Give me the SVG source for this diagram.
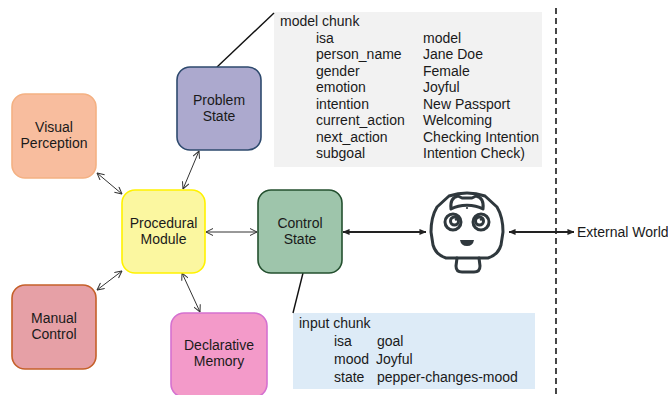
<svg xmlns="http://www.w3.org/2000/svg" width="668" height="395" viewBox="0 0 668 395">
  <style>
    text { font-family: "Liberation Sans", Arial, sans-serif; font-size: 14px; fill: #1a1a1a; }
    .lbl { text-anchor: middle; }
    .node rect { stroke-width: 1.6; }
    .thin { stroke: #333; stroke-width: 1; fill: none; marker-start: url(#open); marker-end: url(#open); }
    .thick { stroke: #222; stroke-width: 1.8; fill: none; marker-start: url(#solid); marker-end: url(#solid); }
    .lead { stroke: #111; stroke-width: 1.4; fill: none; }
    .robot { stroke: #2f383d; stroke-width: 3; fill: none; stroke-linejoin: round; stroke-linecap: round; }
  </style>
  <defs>
    <marker id="open" viewBox="0 0 8 8" refX="7.5" refY="4" markerWidth="8" markerHeight="8" markerUnits="userSpaceOnUse" orient="auto-start-reverse">
      <path d="M0.5,0.5 L7.5,4 L0.5,7.5" fill="none" stroke="#333" stroke-width="1"/>
    </marker>
    <marker id="solid" viewBox="0 0 8 8" refX="7.5" refY="4" markerWidth="7" markerHeight="7" markerUnits="userSpaceOnUse" orient="auto-start-reverse">
      <path d="M0,0.5 L8,4 L0,7.5 Z" fill="#222"/>
    </marker>
  </defs>

  <rect width="668" height="395" fill="#ffffff"/>

  <!-- boundary to the outside world -->
  <line x1="556" y1="8" x2="556" y2="395" stroke="#333" stroke-width="1.8" stroke-dasharray="6 4"/>

  <!-- chunk panels -->
  <g id="model-chunk">
    <rect x="274" y="12" width="268" height="155" fill="#f2f2f2"/>
    <text x="280" y="26">model chunk</text>
    <text x="316" y="42.5">isa</text><text x="423" y="42.5">model</text>
    <text x="316" y="59">person_name</text><text x="423" y="59">Jane Doe</text>
    <text x="316" y="75.5">gender</text><text x="423" y="75.5">Female</text>
    <text x="316" y="92">emotion</text><text x="423" y="92">Joyful</text>
    <text x="316" y="108.5">intention</text><text x="423" y="108.5">New Passport</text>
    <text x="316" y="125">current_action</text><text x="423" y="125">Welcoming</text>
    <text x="316" y="141.5">next_action</text><text x="423" y="141.5">Checking Intention</text>
    <text x="316" y="158">subgoal</text><text x="423" y="158">Intention Check)</text>
  </g>

  <g id="input-chunk">
    <rect x="293" y="313" width="242" height="76" fill="#ddebf7"/>
    <text x="299" y="328">input chunk</text>
    <text x="334" y="346">isa</text><text x="377" y="346">goal</text>
    <text x="334" y="364">mood</text><text x="376" y="364">Joyful</text>
    <text x="334" y="382">state</text><text x="377" y="382">pepper-changes-mood</text>
  </g>

  <!-- connectors -->
  <g id="connectors">
    <line class="thin" x1="97" y1="173" x2="122" y2="194"/>
    <line class="thin" x1="199" y1="151" x2="183" y2="189"/>
    <line class="thin" x1="97" y1="290" x2="122" y2="271"/>
    <line class="thin" x1="182" y1="273" x2="200" y2="312"/>
    <line class="thin" x1="206" y1="232" x2="257" y2="232"/>
    <line class="thick" x1="343" y1="232" x2="426" y2="232"/>
    <line class="thick" x1="509" y1="232" x2="574" y2="232"/>
    <line class="lead" x1="217" y1="67" x2="274" y2="13"/>
    <line class="lead" x1="303" y1="273" x2="293" y2="313"/>
  </g>

  <!-- modules -->
  <g id="visual-perception" class="node">
    <rect x="12" y="94" width="84" height="84" rx="13" fill="#f8bd9e" stroke="#f4b183"/>
    <text class="lbl" x="54" y="132">Visual</text>
    <text class="lbl" x="54" y="148">Perception</text>
  </g>

  <g id="problem-state" class="node">
    <rect x="177" y="67" width="84" height="83" rx="13" fill="#aca9ce" stroke="#2e4a6e"/>
    <text class="lbl" x="219" y="105">Problem</text>
    <text class="lbl" x="219" y="121">State</text>
  </g>

  <g id="procedural-module" class="node">
    <rect x="122" y="190" width="83" height="83" rx="13" fill="#fbf7a0" stroke="#fff200"/>
    <text class="lbl" x="163.5" y="228">Procedural</text>
    <text class="lbl" x="163.5" y="244">Module</text>
  </g>

  <g id="control-state" class="node">
    <rect x="258" y="190" width="84" height="83" rx="13" fill="#9ec5ab" stroke="#24502f"/>
    <text class="lbl" x="300" y="228">Control</text>
    <text class="lbl" x="300" y="244">State</text>
  </g>

  <g id="manual-control" class="node">
    <rect x="12" y="285" width="84" height="84" rx="13" fill="#e6a0a6" stroke="#c5602a"/>
    <text class="lbl" x="54" y="323">Manual</text>
    <text class="lbl" x="54" y="339">Control</text>
  </g>

  <g id="declarative-memory" class="node">
    <rect x="171" y="313" width="96" height="84" rx="13" fill="#f39ac9" stroke="#d571d0"/>
    <text class="lbl" x="219" y="350">Declarative</text>
    <text class="lbl" x="219" y="366">Memory</text>
  </g>

  <!-- robot head -->
  <g id="robot">
    <path class="robot" d="M449,196 Q467,190 485,196 L497,207 Q503,217 503,232 L501,245 Q498,255 488,258 L446,258 Q436,255 433,245 L431,232 Q431,217 437,207 Z"/>
    <path class="robot" stroke-width="2.4" d="M451,209 C450,201 453,197 458,196 L462,198 L472,198 L476,196 C481,197 484,201 483,209 C474,204 460,204 451,209 Z"/>
    <circle cx="467" cy="208" r="1.1" fill="#2f383d"/>
    <circle class="robot" stroke-width="2.5" cx="453" cy="222" r="8"/>
    <circle class="robot" stroke-width="2.5" cx="481" cy="222" r="8"/>
    <circle class="robot" stroke-width="2" cx="454.5" cy="221" r="4"/>
    <circle class="robot" stroke-width="2" cx="479.5" cy="221" r="4"/>
    <circle cx="456" cy="219.5" r="1.2" fill="#2f383d"/>
    <circle cx="481" cy="219.5" r="1.2" fill="#2f383d"/>
    <path d="M460,240 L474,240 Q473,246 467,246 Q461,246 460,240 Z" fill="#2f383d"/>
    <path class="robot" d="M457,258 L456,266 Q456,272 462,272 L474,272 Q480,272 480,266 L479,258"/>
  </g>

  <text x="577" y="237">External World</text>
</svg>
